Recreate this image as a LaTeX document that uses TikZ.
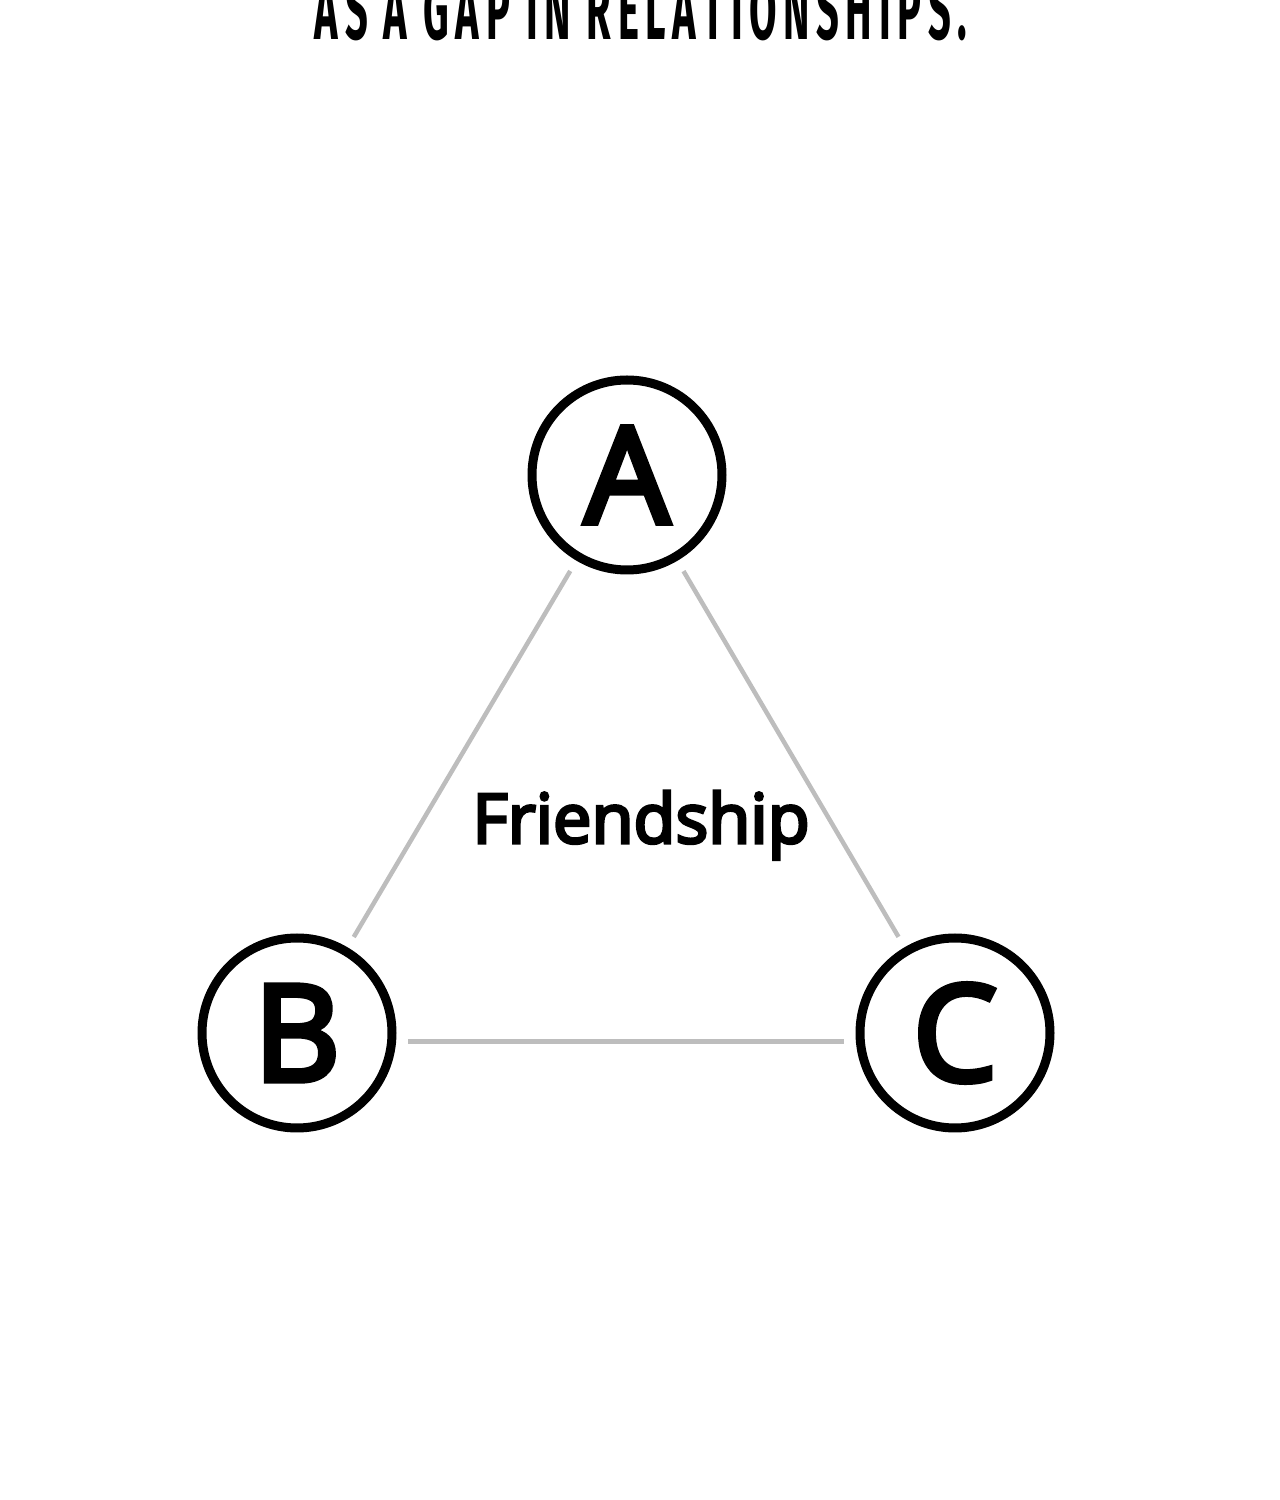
\documentclass[tikz,border=0pt]{standalone}
\usepackage{graphicx}
\usepackage{fontspec}
\setmainfont{Open Sans}
\newfontfamily\markfont[FakeBold=4.5]{Open Sans}
\newfontfamily\titlefont{Fira Sans}
\usetikzlibrary{calc, positioning}
\definecolor{tiegray}{HTML}{BDBDBD}

\begin{document}
\begin{tikzpicture}[
  person/.style={circle, draw=black, line width=0.09cm, minimum size=1.9cm,
    inner sep=0pt, font=\fontsize{38}{38}\markfont},
  tie/.style={draw=tiegray, line width=0.045cm, shorten >=0.12cm, shorten <=0.12cm}
]
\useasboundingbox (0,0) rectangle (12.8,15);

% Heading, cut by the top edge
\node[anchor=base, inner sep=0pt] (heading) at (6.41,14.6)
    {\resizebox{6.52cm}{0.6cm}{\titlefont\bfseries A\,S\, A\, G\,A\,P\, I\,N\, R\,E\,L\,A\,T\,I\,O\,N\,S\,H\,I\,P\,S\,.}};

% The three people
\node[person] (A) at (6.27,10.25) {A};
\node[person] (B) at (2.97,4.67) {B};
\node[person] (C) at (9.55,4.67) {C};

% Ties between them
\draw[tie] (A) -- (B);
\draw[tie] (A) -- (C);
\draw[tie] (B.-5) -- (C.-175);

% Label inside the triangle
\node[anchor=base, font=\fontsize{19.5}{19.5}\markfont] (friendship)
    at (6.41,6.57) {Friendship};
\end{tikzpicture}
\end{document}
